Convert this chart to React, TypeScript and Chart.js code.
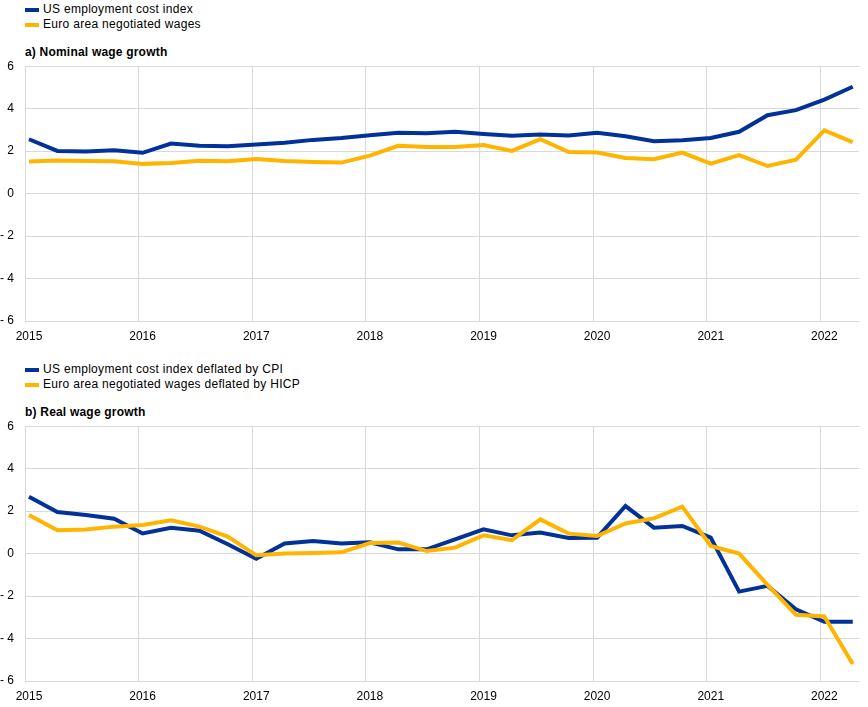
import React, { useEffect, useRef } from "react";
import { Chart, registerables } from "chart.js";

Chart.register(...registerables);

const quarters: string[] = [
  "2015Q1", "2015Q2", "2015Q3", "2015Q4",
  "2016Q1", "2016Q2", "2016Q3", "2016Q4",
  "2017Q1", "2017Q2", "2017Q3", "2017Q4",
  "2018Q1", "2018Q2", "2018Q3", "2018Q4",
  "2019Q1", "2019Q2", "2019Q3", "2019Q4",
  "2020Q1", "2020Q2", "2020Q3", "2020Q4",
  "2021Q1", "2021Q2", "2021Q3", "2021Q4",
  "2022Q1", "2022Q2",
];

const yearTicks: number[] = [2015, 2016, 2017, 2018, 2019, 2020, 2021, 2022];
const yTicks: number[] = [-6, -4, -2, 0, 2, 4, 6];

const usNominal: number[] = [
  2.56, 2.01, 1.98, 2.04, 1.92, 2.36, 2.25, 2.23, 2.31, 2.39,
  2.53, 2.62, 2.75, 2.86, 2.84, 2.91, 2.81, 2.72, 2.78, 2.74,
  2.87, 2.70, 2.47, 2.51, 2.62, 2.91, 3.69, 3.93, 4.43, 5.03,
];
const euNominal: number[] = [
  1.51, 1.56, 1.54, 1.52, 1.40, 1.44, 1.55, 1.52, 1.63, 1.54,
  1.49, 1.46, 1.79, 2.25, 2.20, 2.20, 2.29, 2.01, 2.56, 1.96,
  1.93, 1.68, 1.62, 1.93, 1.41, 1.81, 1.30, 1.60, 2.98, 2.42,
];
const usReal: number[] = [
  2.68, 1.96, 1.82, 1.64, 0.95, 1.22, 1.08, 0.44, -0.24, 0.48,
  0.59, 0.48, 0.53, 0.20, 0.20, 0.67, 1.14, 0.86, 0.99, 0.74,
  0.75, 2.24, 1.22, 1.30, 0.75, -1.79, -1.52, -2.62, -3.21, -3.21,
];
const euReal: number[] = [
  1.82, 1.10, 1.14, 1.27, 1.35, 1.57, 1.27, 0.80, -0.08, 0.00,
  0.03, 0.06, 0.50, 0.52, 0.12, 0.28, 0.86, 0.63, 1.61, 0.94,
  0.83, 1.42, 1.66, 2.21, 0.36, 0.00, -1.47, -2.88, -2.96, -5.20,
];

const BLUE = "#003299";
const YELLOW = "#FFB400";
const GRID = "#d9d9d9";
const FONT = "'Liberation Sans', Arial, Helvetica, sans-serif";

const quarterToX = (q: string): number => {
  const year = parseInt(q.slice(0, 4), 10);
  const qn = parseInt(q.slice(5), 10);
  return year + (qn - 1) * 0.25 + 0.035;
};

function makePoints(values: number[]) {
  return values.map((v, i) => ({ x: quarterToX(quarters[i]), y: v }));
}

interface PanelProps {
  top: number;
  blue: number[];
  yellow: number[];
  blueLabel: string;
  yellowLabel: string;
}

const CANVAS_H = 298;

function LinePanel({ top, blue, yellow, blueLabel, yellowLabel }: PanelProps) {
  const ref = useRef<HTMLCanvasElement | null>(null);
  useEffect(() => {
    if (!ref.current) return;
    const chart = new Chart(ref.current, {
      type: "line",
      data: {
        datasets: [
          {
            label: blueLabel,
            data: makePoints(blue),
            borderColor: BLUE,
            backgroundColor: BLUE,
            borderWidth: 4,
            pointRadius: 0,
            tension: 0,
            order: 1,
          },
          {
            label: yellowLabel,
            data: makePoints(yellow),
            borderColor: YELLOW,
            backgroundColor: YELLOW,
            borderWidth: 4,
            pointRadius: 0,
            tension: 0,
            order: 0,
          },
        ],
      },
      options: {
        animation: false,
        responsive: false,
        devicePixelRatio: 1,
        layout: { padding: { top: 0, right: 9, left: 0, bottom: 0 } },
        plugins: {
          legend: { display: false },
          tooltip: { enabled: false },
          title: { display: false },
        },
        scales: {
          x: {
            type: "linear",
            min: 2015,
            max: 2022.34,
            afterBuildTicks: (scale: any) => {
              scale.ticks = yearTicks.map((v) => ({ value: v }));
            },
            afterFit: (scale: any) => {
              scale.height = 25;
            },
            grid: { color: GRID, lineWidth: 1, drawTicks: false },
            border: { display: false },
            ticks: {
              padding: 8,
              labelOffset: 4,
              maxRotation: 0,
              autoSkip: false,
              color: "#000",
              font: { family: FONT, size: 12 },
              callback: (v: any) => String(v),
            },
          },
          y: {
            min: -6,
            max: 6,
            afterBuildTicks: (scale: any) => {
              scale.ticks = yTicks.map((v) => ({ value: v }));
            },
            afterFit: (scale: any) => {
              scale.width = 25;
            },
            grid: { color: GRID, lineWidth: 1, drawTicks: false },
            border: { display: false },
            ticks: {
              padding: 11,
              color: "#000",
              font: { family: FONT, size: 12 },
              callback: (v: any) => (Number(v) < 0 ? "- " + Math.abs(Number(v)) : String(v)),
            },
          },
        },
      },
    });
    return () => chart.destroy();
  }, [blue, yellow, blueLabel, yellowLabel]);
  return (
    <canvas
      ref={ref}
      width={868}
      height={CANVAS_H}
      style={{ position: "absolute", left: 0, top, width: 868, height: CANVAS_H }}
    />
  );
}

function LegendItem({ top, color, text }: { top: number; color: string; text: string }) {
  return (
    <div style={{ position: "absolute", left: 0, top, height: 15, width: 600 }}>
      <span
        style={{
          position: "absolute",
          left: 25,
          top: 5.5,
          width: 14,
          height: 4,
          background: color,
        }}
      />
      <span
        style={{
          position: "absolute",
          left: 43,
          top: 0,
          lineHeight: "15px",
          fontSize: 12,
          letterSpacing: "0.3px",
          color: "#000",
          whiteSpace: "nowrap",
        }}
      >
        {text}
      </span>
    </div>
  );
}

function Title({ top, text }: { top: number; text: string }) {
  return (
    <div
      style={{
        position: "absolute",
        left: 25,
        top,
        lineHeight: "15px",
        fontSize: 12,
        fontWeight: "bold",
        letterSpacing: "0.2px",
        color: "#000",
        whiteSpace: "nowrap",
      }}
    >
      {text}
    </div>
  );
}

export default function App() {
  return (
    <div
      style={{
        position: "absolute",
        left: 0,
        top: 0,
        width: 868,
        height: 707,
        background: "#fff",
        fontFamily: FONT,
        overflow: "hidden",
      }}
    >
      <LegendItem top={2} color={BLUE} text="US employment cost index" />
      <LegendItem top={17} color={YELLOW} text="Euro area negotiated wages" />
      <Title top={45} text="a) Nominal wage growth" />
      <LinePanel
        top={48}
        blue={usNominal}
        yellow={euNominal}
        blueLabel="US employment cost index"
        yellowLabel="Euro area negotiated wages"
      />
      <LegendItem top={362} color={BLUE} text="US employment cost index deflated by CPI" />
      <LegendItem top={377} color={YELLOW} text="Euro area negotiated wages deflated by HICP" />
      <Title top={405} text="b) Real wage growth" />
      <LinePanel
        top={408}
        blue={usReal}
        yellow={euReal}
        blueLabel="US employment cost index deflated by CPI"
        yellowLabel="Euro area negotiated wages deflated by HICP"
      />
    </div>
  );
}
